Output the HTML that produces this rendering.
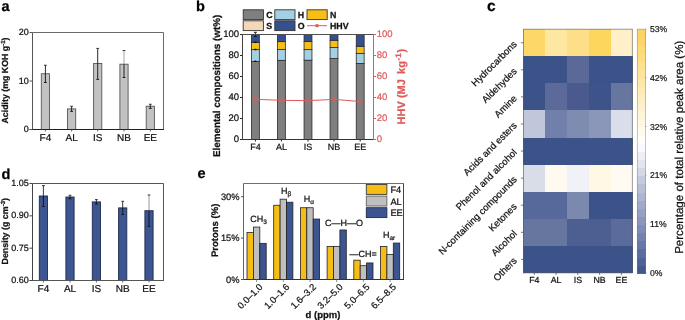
<!DOCTYPE html>
<html><head><meta charset="utf-8"><style>
html,body{margin:0;padding:0;background:#fff;}
svg{display:block;will-change:transform;text-rendering:geometricPrecision;font-family:"Liberation Sans", sans-serif;}
</style></head><body>
<svg width="685" height="320" viewBox="0 0 685 320">
<rect width="685" height="320" fill="#fff"/>
<text x="1.50" y="11.00" font-size="14.5" text-anchor="start" font-weight="bold" fill="#000" stroke="#000" stroke-width="0.25" >a</text>
<rect x="41.30" y="73.75" width="8.20" height="55.75" fill="#c2c2c2" stroke="#555" stroke-width="0.9" />
<rect x="67.50" y="108.90" width="8.20" height="20.60" fill="#c2c2c2" stroke="#555" stroke-width="0.9" />
<rect x="93.60" y="63.50" width="8.20" height="66.00" fill="#c2c2c2" stroke="#555" stroke-width="0.9" />
<rect x="119.90" y="64.20" width="8.20" height="65.30" fill="#c2c2c2" stroke="#555" stroke-width="0.9" />
<rect x="146.20" y="106.25" width="8.20" height="23.25" fill="#c2c2c2" stroke="#555" stroke-width="0.9" />
<line x1="45.40" y1="65.25" x2="45.40" y2="73.75" stroke="#111" stroke-width="0.9" />
<line x1="45.40" y1="73.75" x2="45.40" y2="82.50" stroke="#111" stroke-width="0.9" />
<line x1="44.00" y1="65.25" x2="46.80" y2="65.25" stroke="#222" stroke-width="0.9" />
<line x1="44.00" y1="82.50" x2="46.80" y2="82.50" stroke="#111" stroke-width="0.9" />
<line x1="71.60" y1="106.25" x2="71.60" y2="108.90" stroke="#111" stroke-width="0.9" />
<line x1="71.60" y1="108.90" x2="71.60" y2="111.40" stroke="#111" stroke-width="0.9" />
<line x1="70.20" y1="106.25" x2="73.00" y2="106.25" stroke="#222" stroke-width="0.9" />
<line x1="70.20" y1="111.40" x2="73.00" y2="111.40" stroke="#111" stroke-width="0.9" />
<line x1="97.70" y1="48.40" x2="97.70" y2="63.50" stroke="#111" stroke-width="0.9" />
<line x1="97.70" y1="63.50" x2="97.70" y2="79.40" stroke="#111" stroke-width="0.9" />
<line x1="96.30" y1="48.40" x2="99.10" y2="48.40" stroke="#222" stroke-width="0.9" />
<line x1="96.30" y1="79.40" x2="99.10" y2="79.40" stroke="#111" stroke-width="0.9" />
<line x1="124.00" y1="50.50" x2="124.00" y2="64.20" stroke="#9a9a9a" stroke-width="0.9" />
<line x1="124.00" y1="64.20" x2="124.00" y2="77.50" stroke="#111" stroke-width="0.9" />
<line x1="122.60" y1="50.50" x2="125.40" y2="50.50" stroke="#222" stroke-width="0.9" />
<line x1="122.60" y1="77.50" x2="125.40" y2="77.50" stroke="#111" stroke-width="0.9" />
<line x1="150.30" y1="104.25" x2="150.30" y2="106.25" stroke="#111" stroke-width="0.9" />
<line x1="150.30" y1="106.25" x2="150.30" y2="108.40" stroke="#111" stroke-width="0.9" />
<line x1="148.90" y1="104.25" x2="151.70" y2="104.25" stroke="#222" stroke-width="0.9" />
<line x1="148.90" y1="108.40" x2="151.70" y2="108.40" stroke="#111" stroke-width="0.9" />
<line x1="32.50" y1="32.50" x2="163.50" y2="32.50" stroke="#6a6a6a" stroke-width="1" />
<line x1="163.50" y1="32.50" x2="163.50" y2="129.50" stroke="#6a6a6a" stroke-width="1" />
<line x1="32.50" y1="32.50" x2="32.50" y2="129.50" stroke="#555" stroke-width="1" />
<line x1="29.50" y1="129.50" x2="164.00" y2="129.50" stroke="#222" stroke-width="1" />
<line x1="29.50" y1="129.50" x2="32.50" y2="129.50" stroke="#555" stroke-width="1" />
<text x="28.70" y="132.40" font-size="9" text-anchor="end" font-weight="normal" fill="#111" stroke="#111" stroke-width="0.22" >0</text>
<line x1="29.50" y1="81.00" x2="32.50" y2="81.00" stroke="#555" stroke-width="1" />
<text x="28.70" y="83.90" font-size="9" text-anchor="end" font-weight="normal" fill="#111" stroke="#111" stroke-width="0.22" >10</text>
<line x1="29.50" y1="32.50" x2="32.50" y2="32.50" stroke="#555" stroke-width="1" />
<text x="28.70" y="35.40" font-size="9" text-anchor="end" font-weight="normal" fill="#111" stroke="#111" stroke-width="0.22" >20</text>
<line x1="45.40" y1="129.50" x2="45.40" y2="131.50" stroke="#444" stroke-width="0.8" />
<text x="45.40" y="140.60" font-size="10" text-anchor="middle" font-weight="normal" fill="#111" stroke="#111" stroke-width="0.22" >F4</text>
<line x1="71.60" y1="129.50" x2="71.60" y2="131.50" stroke="#444" stroke-width="0.8" />
<text x="71.60" y="140.60" font-size="10" text-anchor="middle" font-weight="normal" fill="#111" stroke="#111" stroke-width="0.22" >AL</text>
<line x1="97.70" y1="129.50" x2="97.70" y2="131.50" stroke="#444" stroke-width="0.8" />
<text x="97.70" y="140.60" font-size="10" text-anchor="middle" font-weight="normal" fill="#111" stroke="#111" stroke-width="0.22" >IS</text>
<line x1="124.00" y1="129.50" x2="124.00" y2="131.50" stroke="#444" stroke-width="0.8" />
<text x="124.00" y="140.60" font-size="10" text-anchor="middle" font-weight="normal" fill="#111" stroke="#111" stroke-width="0.22" >NB</text>
<line x1="150.30" y1="129.50" x2="150.30" y2="131.50" stroke="#444" stroke-width="0.8" />
<text x="150.30" y="140.60" font-size="10" text-anchor="middle" font-weight="normal" fill="#111" stroke="#111" stroke-width="0.22" >EE</text>
<text transform="translate(8.4,123.5) rotate(-90)" font-size="8.8" font-weight="bold" fill="#111" stroke="#111" stroke-width="0.25">Acidity (mg KOH g<tspan dy="-3.5" font-size="6">-1</tspan><tspan dy="3.5">)</tspan></text>
<text x="1.50" y="178.50" font-size="14.5" text-anchor="start" font-weight="bold" fill="#000" stroke="#000" stroke-width="0.25" >d</text>
<rect x="39.30" y="196.00" width="8.20" height="84.50" fill="#3d5590" stroke="#1e2b4f" stroke-width="0.9" />
<rect x="65.90" y="197.00" width="8.20" height="83.50" fill="#3d5590" stroke="#1e2b4f" stroke-width="0.9" />
<rect x="92.30" y="201.90" width="8.20" height="78.60" fill="#3d5590" stroke="#1e2b4f" stroke-width="0.9" />
<rect x="118.60" y="207.90" width="8.20" height="72.60" fill="#3d5590" stroke="#1e2b4f" stroke-width="0.9" />
<rect x="144.90" y="210.70" width="8.20" height="69.80" fill="#3d5590" stroke="#1e2b4f" stroke-width="0.9" />
<line x1="43.40" y1="185.60" x2="43.40" y2="196.00" stroke="#222" stroke-width="0.9" />
<line x1="43.40" y1="196.00" x2="43.40" y2="206.50" stroke="#111" stroke-width="0.9" />
<line x1="42.00" y1="185.60" x2="44.80" y2="185.60" stroke="#222" stroke-width="0.9" />
<line x1="42.00" y1="206.50" x2="44.80" y2="206.50" stroke="#111" stroke-width="0.9" />
<line x1="70.00" y1="195.25" x2="70.00" y2="197.00" stroke="#222" stroke-width="0.9" />
<line x1="70.00" y1="197.00" x2="70.00" y2="198.75" stroke="#111" stroke-width="0.9" />
<line x1="68.60" y1="195.25" x2="71.40" y2="195.25" stroke="#222" stroke-width="0.9" />
<line x1="68.60" y1="198.75" x2="71.40" y2="198.75" stroke="#111" stroke-width="0.9" />
<line x1="96.40" y1="199.60" x2="96.40" y2="201.90" stroke="#222" stroke-width="0.9" />
<line x1="96.40" y1="201.90" x2="96.40" y2="204.00" stroke="#111" stroke-width="0.9" />
<line x1="95.00" y1="199.60" x2="97.80" y2="199.60" stroke="#222" stroke-width="0.9" />
<line x1="95.00" y1="204.00" x2="97.80" y2="204.00" stroke="#111" stroke-width="0.9" />
<line x1="122.70" y1="201.30" x2="122.70" y2="207.90" stroke="#222" stroke-width="0.9" />
<line x1="122.70" y1="207.90" x2="122.70" y2="214.50" stroke="#111" stroke-width="0.9" />
<line x1="121.30" y1="201.30" x2="124.10" y2="201.30" stroke="#222" stroke-width="0.9" />
<line x1="121.30" y1="214.50" x2="124.10" y2="214.50" stroke="#111" stroke-width="0.9" />
<line x1="149.00" y1="195.00" x2="149.00" y2="210.70" stroke="#8a8a8a" stroke-width="0.9" />
<line x1="149.00" y1="210.70" x2="149.00" y2="226.30" stroke="#111" stroke-width="0.9" />
<line x1="147.60" y1="195.00" x2="150.40" y2="195.00" stroke="#222" stroke-width="0.9" />
<line x1="147.60" y1="226.30" x2="150.40" y2="226.30" stroke="#111" stroke-width="0.9" />
<line x1="32.50" y1="183.50" x2="163.50" y2="183.50" stroke="#555" stroke-width="1" />
<line x1="163.50" y1="183.50" x2="163.50" y2="280.50" stroke="#555" stroke-width="1" />
<line x1="32.50" y1="183.50" x2="32.50" y2="280.50" stroke="#444" stroke-width="1" />
<line x1="29.50" y1="280.50" x2="164.00" y2="280.50" stroke="#555" stroke-width="1" />
<line x1="29.50" y1="280.50" x2="32.50" y2="280.50" stroke="#444" stroke-width="1" />
<text x="28.70" y="282.90" font-size="9" text-anchor="end" font-weight="normal" fill="#111" stroke="#111" stroke-width="0.22" >0.60</text>
<line x1="29.50" y1="248.17" x2="32.50" y2="248.17" stroke="#444" stroke-width="1" />
<text x="28.70" y="250.57" font-size="9" text-anchor="end" font-weight="normal" fill="#111" stroke="#111" stroke-width="0.22" >0.75</text>
<line x1="29.50" y1="215.83" x2="32.50" y2="215.83" stroke="#444" stroke-width="1" />
<text x="28.70" y="218.23" font-size="9" text-anchor="end" font-weight="normal" fill="#111" stroke="#111" stroke-width="0.22" >0.90</text>
<line x1="29.50" y1="183.50" x2="32.50" y2="183.50" stroke="#444" stroke-width="1" />
<text x="28.70" y="185.90" font-size="9" text-anchor="end" font-weight="normal" fill="#111" stroke="#111" stroke-width="0.22" >1.05</text>
<line x1="43.40" y1="280.50" x2="43.40" y2="282.50" stroke="#444" stroke-width="0.8" />
<text x="43.40" y="292.10" font-size="10" text-anchor="middle" font-weight="normal" fill="#111" stroke="#111" stroke-width="0.22" >F4</text>
<line x1="70.00" y1="280.50" x2="70.00" y2="282.50" stroke="#444" stroke-width="0.8" />
<text x="70.00" y="292.10" font-size="10" text-anchor="middle" font-weight="normal" fill="#111" stroke="#111" stroke-width="0.22" >AL</text>
<line x1="96.40" y1="280.50" x2="96.40" y2="282.50" stroke="#444" stroke-width="0.8" />
<text x="96.40" y="292.10" font-size="10" text-anchor="middle" font-weight="normal" fill="#111" stroke="#111" stroke-width="0.22" >IS</text>
<line x1="122.70" y1="280.50" x2="122.70" y2="282.50" stroke="#444" stroke-width="0.8" />
<text x="122.70" y="292.10" font-size="10" text-anchor="middle" font-weight="normal" fill="#111" stroke="#111" stroke-width="0.22" >NB</text>
<line x1="149.00" y1="280.50" x2="149.00" y2="282.50" stroke="#444" stroke-width="0.8" />
<text x="149.00" y="292.10" font-size="10" text-anchor="middle" font-weight="normal" fill="#111" stroke="#111" stroke-width="0.22" >EE</text>
<text transform="translate(8.3,264.5) rotate(-90)" font-size="8.9" font-weight="bold" fill="#111" stroke="#111" stroke-width="0.25">Density (g cm<tspan dy="-3.5" font-size="6">-3</tspan><tspan dy="3.5">)</tspan></text>
<text x="196.00" y="10.70" font-size="14.5" text-anchor="start" font-weight="bold" fill="#000" stroke="#000" stroke-width="0.25" >b</text>
<rect x="251.45" y="61.38" width="7.90" height="78.12" fill="#7f7f7f" stroke="#2a2a2a" stroke-width="0.8" />
<rect x="251.45" y="49.62" width="7.90" height="11.76" fill="#a3d0e2" stroke="#2a2a2a" stroke-width="0.8" />
<rect x="251.45" y="42.38" width="7.90" height="7.25" fill="#f7be16" stroke="#2a2a2a" stroke-width="0.8" />
<rect x="251.45" y="34.50" width="7.90" height="7.88" fill="#34508f" stroke="#2a2a2a" stroke-width="0.8" />
<rect x="277.45" y="60.33" width="7.90" height="79.17" fill="#7f7f7f" stroke="#2a2a2a" stroke-width="0.8" />
<rect x="277.45" y="49.52" width="7.90" height="10.81" fill="#a3d0e2" stroke="#2a2a2a" stroke-width="0.8" />
<rect x="277.45" y="41.64" width="7.90" height="7.88" fill="#f7be16" stroke="#2a2a2a" stroke-width="0.8" />
<rect x="277.45" y="34.50" width="7.90" height="7.14" fill="#34508f" stroke="#2a2a2a" stroke-width="0.8" />
<rect x="304.05" y="60.22" width="7.90" height="79.28" fill="#7f7f7f" stroke="#2a2a2a" stroke-width="0.8" />
<rect x="304.05" y="49.62" width="7.90" height="10.60" fill="#a3d0e2" stroke="#2a2a2a" stroke-width="0.8" />
<rect x="304.05" y="41.53" width="7.90" height="8.09" fill="#f7be16" stroke="#2a2a2a" stroke-width="0.8" />
<rect x="304.05" y="34.50" width="7.90" height="7.03" fill="#34508f" stroke="#2a2a2a" stroke-width="0.8" />
<rect x="330.05" y="58.55" width="7.90" height="80.95" fill="#7f7f7f" stroke="#2a2a2a" stroke-width="0.8" />
<rect x="330.05" y="47.52" width="7.90" height="11.03" fill="#a3d0e2" stroke="#2a2a2a" stroke-width="0.8" />
<rect x="330.05" y="40.28" width="7.90" height="7.24" fill="#f7be16" stroke="#2a2a2a" stroke-width="0.8" />
<rect x="330.05" y="34.50" width="7.90" height="5.78" fill="#34508f" stroke="#2a2a2a" stroke-width="0.8" />
<rect x="356.25" y="63.48" width="7.90" height="76.02" fill="#7f7f7f" stroke="#2a2a2a" stroke-width="0.8" />
<rect x="356.25" y="53.40" width="7.90" height="10.08" fill="#a3d0e2" stroke="#2a2a2a" stroke-width="0.8" />
<rect x="356.25" y="46.26" width="7.90" height="7.14" fill="#f7be16" stroke="#2a2a2a" stroke-width="0.8" />
<rect x="356.25" y="34.50" width="7.90" height="11.76" fill="#34508f" stroke="#2a2a2a" stroke-width="0.8" />
<line x1="255.40" y1="32.30" x2="255.40" y2="36.30" stroke="#111" stroke-width="0.9" />
<line x1="253.90" y1="32.30" x2="256.90" y2="32.30" stroke="#111" stroke-width="0.9" />
<line x1="253.90" y1="36.30" x2="256.90" y2="36.30" stroke="#111" stroke-width="0.9" />
<line x1="254.40" y1="61.30" x2="256.40" y2="61.30" stroke="#111" stroke-width="1.5" />
<line x1="254.40" y1="49.50" x2="256.40" y2="49.50" stroke="#111" stroke-width="1.5" />
<line x1="254.40" y1="42.30" x2="256.40" y2="42.30" stroke="#111" stroke-width="1.5" />
<polyline points="255.40,99.28 281.40,100.34 308.00,100.65 334.00,99.39 360.20,101.49" fill="none" stroke="#e05a5a" stroke-width="1"/>
<rect x="253.90" y="97.78" width="3.00" height="3.00" fill="#e05a5a" stroke="none" stroke-width="1" />
<rect x="279.90" y="98.84" width="3.00" height="3.00" fill="#e05a5a" stroke="none" stroke-width="1" />
<rect x="306.50" y="99.15" width="3.00" height="3.00" fill="#e05a5a" stroke="none" stroke-width="1" />
<rect x="332.50" y="97.89" width="3.00" height="3.00" fill="#e05a5a" stroke="none" stroke-width="1" />
<rect x="358.70" y="99.99" width="3.00" height="3.00" fill="#e05a5a" stroke="none" stroke-width="1" />
<line x1="242.50" y1="34.50" x2="373.50" y2="34.50" stroke="#505050" stroke-width="1" />
<line x1="242.50" y1="34.50" x2="242.50" y2="139.50" stroke="#444" stroke-width="1" />
<line x1="242.50" y1="139.50" x2="373.50" y2="139.50" stroke="#333" stroke-width="1" />
<line x1="373.50" y1="34.50" x2="373.50" y2="139.50" stroke="#e05a5a" stroke-width="1" />
<line x1="240.00" y1="139.50" x2="242.50" y2="139.50" stroke="#262626" stroke-width="1" />
<text x="239.00" y="142.30" font-size="9.5" text-anchor="end" font-weight="normal" fill="#111" stroke="#111" stroke-width="0.22" >0</text>
<line x1="373.50" y1="139.50" x2="376.00" y2="139.50" stroke="#e05a5a" stroke-width="1" />
<text x="376.70" y="142.30" font-size="9.5" text-anchor="start" font-weight="normal" fill="#e05a5a" stroke="#e05a5a" stroke-width="0.22" >0</text>
<line x1="240.00" y1="118.50" x2="242.50" y2="118.50" stroke="#262626" stroke-width="1" />
<text x="239.00" y="121.30" font-size="9.5" text-anchor="end" font-weight="normal" fill="#111" stroke="#111" stroke-width="0.22" >20</text>
<line x1="373.50" y1="118.50" x2="376.00" y2="118.50" stroke="#e05a5a" stroke-width="1" />
<text x="376.70" y="121.30" font-size="9.5" text-anchor="start" font-weight="normal" fill="#e05a5a" stroke="#e05a5a" stroke-width="0.22" >20</text>
<line x1="240.00" y1="97.50" x2="242.50" y2="97.50" stroke="#262626" stroke-width="1" />
<text x="239.00" y="100.30" font-size="9.5" text-anchor="end" font-weight="normal" fill="#111" stroke="#111" stroke-width="0.22" >40</text>
<line x1="373.50" y1="97.50" x2="376.00" y2="97.50" stroke="#e05a5a" stroke-width="1" />
<text x="376.70" y="100.30" font-size="9.5" text-anchor="start" font-weight="normal" fill="#e05a5a" stroke="#e05a5a" stroke-width="0.22" >40</text>
<line x1="240.00" y1="76.50" x2="242.50" y2="76.50" stroke="#262626" stroke-width="1" />
<text x="239.00" y="79.30" font-size="9.5" text-anchor="end" font-weight="normal" fill="#111" stroke="#111" stroke-width="0.22" >60</text>
<line x1="373.50" y1="76.50" x2="376.00" y2="76.50" stroke="#e05a5a" stroke-width="1" />
<text x="376.70" y="79.30" font-size="9.5" text-anchor="start" font-weight="normal" fill="#e05a5a" stroke="#e05a5a" stroke-width="0.22" >60</text>
<line x1="240.00" y1="55.50" x2="242.50" y2="55.50" stroke="#262626" stroke-width="1" />
<text x="239.00" y="58.30" font-size="9.5" text-anchor="end" font-weight="normal" fill="#111" stroke="#111" stroke-width="0.22" >80</text>
<line x1="373.50" y1="55.50" x2="376.00" y2="55.50" stroke="#e05a5a" stroke-width="1" />
<text x="376.70" y="58.30" font-size="9.5" text-anchor="start" font-weight="normal" fill="#e05a5a" stroke="#e05a5a" stroke-width="0.22" >80</text>
<line x1="240.00" y1="34.50" x2="242.50" y2="34.50" stroke="#262626" stroke-width="1" />
<text x="239.00" y="37.30" font-size="9.5" text-anchor="end" font-weight="normal" fill="#111" stroke="#111" stroke-width="0.22" >100</text>
<line x1="373.50" y1="34.50" x2="376.00" y2="34.50" stroke="#e05a5a" stroke-width="1" />
<text x="376.70" y="37.30" font-size="9.5" text-anchor="start" font-weight="normal" fill="#e05a5a" stroke="#e05a5a" stroke-width="0.22" >100</text>
<line x1="255.40" y1="139.50" x2="255.40" y2="141.50" stroke="#262626" stroke-width="1" />
<text x="255.40" y="149.90" font-size="9" text-anchor="middle" font-weight="normal" fill="#111" stroke="#111" stroke-width="0.22" >F4</text>
<line x1="281.40" y1="139.50" x2="281.40" y2="141.50" stroke="#262626" stroke-width="1" />
<text x="281.40" y="149.90" font-size="9" text-anchor="middle" font-weight="normal" fill="#111" stroke="#111" stroke-width="0.22" >AL</text>
<line x1="308.00" y1="139.50" x2="308.00" y2="141.50" stroke="#262626" stroke-width="1" />
<text x="308.00" y="149.90" font-size="9" text-anchor="middle" font-weight="normal" fill="#111" stroke="#111" stroke-width="0.22" >IS</text>
<line x1="334.00" y1="139.50" x2="334.00" y2="141.50" stroke="#262626" stroke-width="1" />
<text x="334.00" y="149.90" font-size="9" text-anchor="middle" font-weight="normal" fill="#111" stroke="#111" stroke-width="0.22" >NB</text>
<line x1="360.20" y1="139.50" x2="360.20" y2="141.50" stroke="#262626" stroke-width="1" />
<text x="360.20" y="149.90" font-size="9" text-anchor="middle" font-weight="normal" fill="#111" stroke="#111" stroke-width="0.22" >EE</text>
<text transform="translate(219.8,157) rotate(-90)" font-size="9.85" font-weight="bold" fill="#111" stroke="#111" stroke-width="0.25">Elemental compositions (wt%)</text>
<text transform="translate(405,124.4) rotate(-90)" font-size="11" font-weight="bold" fill="#e05a5a" stroke="#e05a5a" stroke-width="0.25">HHV (MJ<tspan dx="2.2"> kg</tspan><tspan dx="0.6" dy="-4.4" font-size="8">-1</tspan><tspan dx="0.8" dy="4.4">)</tspan></text>
<rect x="243.20" y="9.80" width="20.20" height="9.80" fill="#7f7f7f" stroke="#333" stroke-width="0.9" />
<text x="266.20" y="18.00" font-size="8.8" text-anchor="start" font-weight="bold" fill="#111" stroke="#111" stroke-width="0.25" >C</text>
<rect x="274.80" y="9.80" width="20.20" height="9.80" fill="#a3d0e2" stroke="#333" stroke-width="0.9" />
<text x="297.80" y="18.00" font-size="8.8" text-anchor="start" font-weight="bold" fill="#111" stroke="#111" stroke-width="0.25" >H</text>
<rect x="307.00" y="9.80" width="20.20" height="9.80" fill="#f7be16" stroke="#333" stroke-width="0.9" />
<text x="330.00" y="18.00" font-size="8.8" text-anchor="start" font-weight="bold" fill="#111" stroke="#111" stroke-width="0.25" >N</text>
<rect x="243.20" y="20.80" width="20.20" height="9.80" fill="#f3d8b8" stroke="#333" stroke-width="0.9" />
<text x="266.20" y="29.00" font-size="8.8" text-anchor="start" font-weight="bold" fill="#111" stroke="#111" stroke-width="0.25" >S</text>
<rect x="274.80" y="20.80" width="20.20" height="9.80" fill="#34508f" stroke="#333" stroke-width="0.9" />
<text x="297.80" y="29.00" font-size="8.8" text-anchor="start" font-weight="bold" fill="#111" stroke="#111" stroke-width="0.25" >O</text>
<line x1="307.00" y1="25.70" x2="327.00" y2="25.70" stroke="#e05a5a" stroke-width="1" />
<rect x="315.50" y="24.20" width="3.00" height="3.00" fill="#e05a5a" stroke="none" stroke-width="1" />
<text x="330.00" y="29.00" font-size="8.8" text-anchor="start" font-weight="bold" fill="#111" stroke="#111" stroke-width="0.25" >HHV</text>
<text x="197.50" y="178.20" font-size="14.5" text-anchor="start" font-weight="bold" fill="#000" stroke="#000" stroke-width="0.25" >e</text>
<rect x="247.00" y="232.58" width="6.40" height="46.92" fill="#f6bd16" stroke="#222" stroke-width="0.8" />
<rect x="253.40" y="227.06" width="6.40" height="52.44" fill="#bfbfbf" stroke="#222" stroke-width="0.8" />
<rect x="259.80" y="243.34" width="6.40" height="36.16" fill="#3c5591" stroke="#222" stroke-width="0.8" />
<rect x="273.70" y="205.26" width="6.40" height="74.24" fill="#f6bd16" stroke="#222" stroke-width="0.8" />
<rect x="280.10" y="199.18" width="6.40" height="80.32" fill="#bfbfbf" stroke="#222" stroke-width="0.8" />
<rect x="286.50" y="202.22" width="6.40" height="77.28" fill="#3c5591" stroke="#222" stroke-width="0.8" />
<rect x="300.40" y="207.74" width="6.40" height="71.76" fill="#f6bd16" stroke="#222" stroke-width="0.8" />
<rect x="306.80" y="207.74" width="6.40" height="71.76" fill="#bfbfbf" stroke="#222" stroke-width="0.8" />
<rect x="313.20" y="219.06" width="6.40" height="60.44" fill="#3c5591" stroke="#222" stroke-width="0.8" />
<rect x="327.10" y="246.38" width="6.40" height="33.12" fill="#f6bd16" stroke="#222" stroke-width="0.8" />
<rect x="333.50" y="246.38" width="6.40" height="33.12" fill="#bfbfbf" stroke="#222" stroke-width="0.8" />
<rect x="339.90" y="229.96" width="6.40" height="49.54" fill="#3c5591" stroke="#222" stroke-width="0.8" />
<rect x="353.80" y="260.18" width="6.40" height="19.32" fill="#f6bd16" stroke="#222" stroke-width="0.8" />
<rect x="360.20" y="265.70" width="6.40" height="13.80" fill="#bfbfbf" stroke="#222" stroke-width="0.8" />
<rect x="366.60" y="262.94" width="6.40" height="16.56" fill="#3c5591" stroke="#222" stroke-width="0.8" />
<rect x="380.50" y="246.38" width="6.40" height="33.12" fill="#f6bd16" stroke="#222" stroke-width="0.8" />
<rect x="386.90" y="254.38" width="6.40" height="25.12" fill="#bfbfbf" stroke="#222" stroke-width="0.8" />
<rect x="393.30" y="243.07" width="6.40" height="36.43" fill="#3c5591" stroke="#222" stroke-width="0.8" />
<line x1="243.50" y1="183.50" x2="403.50" y2="183.50" stroke="#707070" stroke-width="1" />
<line x1="243.50" y1="183.50" x2="243.50" y2="279.50" stroke="#666" stroke-width="1" />
<line x1="403.50" y1="183.50" x2="403.50" y2="279.50" stroke="#444" stroke-width="1" />
<line x1="243.50" y1="279.50" x2="404.00" y2="279.50" stroke="#333" stroke-width="1" />
<line x1="241.00" y1="279.50" x2="243.50" y2="279.50" stroke="#555" stroke-width="1" />
<text x="239.50" y="282.80" font-size="9.3" text-anchor="end" font-weight="normal" fill="#111" stroke="#111" stroke-width="0.22" >0%</text>
<line x1="241.00" y1="238.10" x2="243.50" y2="238.10" stroke="#555" stroke-width="1" />
<text x="239.50" y="241.40" font-size="9.3" text-anchor="end" font-weight="normal" fill="#111" stroke="#111" stroke-width="0.22" >15%</text>
<line x1="241.00" y1="196.70" x2="243.50" y2="196.70" stroke="#555" stroke-width="1" />
<text x="239.50" y="200.00" font-size="9.3" text-anchor="end" font-weight="normal" fill="#111" stroke="#111" stroke-width="0.22" >30%</text>
<line x1="256.60" y1="279.50" x2="256.60" y2="282.00" stroke="#777" stroke-width="0.8" />
<text transform="translate(263.30,287.50) rotate(-45)" font-size="9.4" text-anchor="end" font-weight="normal" fill="#111" stroke="#111" stroke-width="0.22">0.0–1.0</text>
<line x1="283.30" y1="279.50" x2="283.30" y2="282.00" stroke="#777" stroke-width="0.8" />
<text transform="translate(290.00,287.50) rotate(-45)" font-size="9.4" text-anchor="end" font-weight="normal" fill="#111" stroke="#111" stroke-width="0.22">1.0–1.6</text>
<line x1="310.00" y1="279.50" x2="310.00" y2="282.00" stroke="#777" stroke-width="0.8" />
<text transform="translate(316.70,287.50) rotate(-45)" font-size="9.4" text-anchor="end" font-weight="normal" fill="#111" stroke="#111" stroke-width="0.22">1.6–3.2</text>
<line x1="336.70" y1="279.50" x2="336.70" y2="282.00" stroke="#777" stroke-width="0.8" />
<text transform="translate(343.40,287.50) rotate(-45)" font-size="9.4" text-anchor="end" font-weight="normal" fill="#111" stroke="#111" stroke-width="0.22">3.2–5.0</text>
<line x1="363.40" y1="279.50" x2="363.40" y2="282.00" stroke="#777" stroke-width="0.8" />
<text transform="translate(370.10,287.50) rotate(-45)" font-size="9.4" text-anchor="end" font-weight="normal" fill="#111" stroke="#111" stroke-width="0.22">5.0–6.5</text>
<line x1="390.10" y1="279.50" x2="390.10" y2="282.00" stroke="#777" stroke-width="0.8" />
<text transform="translate(396.80,287.50) rotate(-45)" font-size="9.4" text-anchor="end" font-weight="normal" fill="#111" stroke="#111" stroke-width="0.22">6.5–8.5</text>
<text x="323.00" y="318.40" font-size="9.5" text-anchor="middle" font-weight="bold" fill="#111" stroke="#111" stroke-width="0.25" >d (ppm)</text>
<text transform="translate(217.5,257) rotate(-90)" font-size="9.5" font-weight="bold" fill="#111" stroke="#111" stroke-width="0.25">Protons (%)</text>
<rect x="366.30" y="184.50" width="20.60" height="9.90" fill="#f6bd16" stroke="#3a3a3a" stroke-width="0.9" />
<text x="390.40" y="193.20" font-size="9.3" text-anchor="start" font-weight="normal" fill="#111" stroke="#111" stroke-width="0.22" >F4</text>
<rect x="366.30" y="196.10" width="20.60" height="9.90" fill="#bfbfbf" stroke="#606060" stroke-width="0.9" />
<text x="390.40" y="204.80" font-size="9.3" text-anchor="start" font-weight="normal" fill="#111" stroke="#111" stroke-width="0.22" >AL</text>
<rect x="366.30" y="207.70" width="20.60" height="9.90" fill="#3c5591" stroke="#1e2b4f" stroke-width="0.9" />
<text x="390.40" y="216.40" font-size="9.3" text-anchor="start" font-weight="normal" fill="#111" stroke="#111" stroke-width="0.22" >EE</text>
<text x="250.3" y="221.6" font-size="9" fill="#111" stroke="#111" stroke-width="0.22">CH<tspan dy="2.5" font-size="6.5">3</tspan></text>
<text x="281" y="193.5" font-size="9" fill="#111" stroke="#111" stroke-width="0.22">H<tspan dy="2.5" font-size="6.5">β</tspan></text>
<text x="303.8" y="201.6" font-size="9" fill="#111" stroke="#111" stroke-width="0.22">H<tspan dy="2.5" font-size="6.5">α</tspan></text>
<text x="325.00" y="226.00" font-size="9" text-anchor="start" font-weight="normal" fill="#111" stroke="#111" stroke-width="0.22" >C—H—O</text>
<text x="349.60" y="257.20" font-size="9" text-anchor="start" font-weight="normal" fill="#111" stroke="#111" stroke-width="0.22" >—CH=</text>
<text x="383" y="237.5" font-size="9" fill="#111" stroke="#111" stroke-width="0.22">H<tspan dy="2.5" font-size="6.5">ar</tspan></text>
<text x="487.00" y="11.20" font-size="15.5" text-anchor="start" font-weight="bold" fill="#000" stroke="#000" stroke-width="0.25" >c</text>
<g shape-rendering="crispEdges">
<rect x="523.40" y="29.20" width="22.28" height="27.58" fill="#fdd868" stroke="none" stroke-width="1" />
<rect x="545.18" y="29.20" width="22.28" height="27.58" fill="#fee7a0" stroke="none" stroke-width="1" />
<rect x="566.96" y="29.20" width="22.28" height="27.58" fill="#fede88" stroke="none" stroke-width="1" />
<rect x="588.74" y="29.20" width="22.28" height="27.58" fill="#fdd65e" stroke="none" stroke-width="1" />
<rect x="610.52" y="29.20" width="22.28" height="27.58" fill="#fff0c8" stroke="none" stroke-width="1" />
<rect x="523.40" y="56.28" width="22.28" height="27.58" fill="#3c5389" stroke="none" stroke-width="1" />
<rect x="545.18" y="56.28" width="22.28" height="27.58" fill="#3c5389" stroke="none" stroke-width="1" />
<rect x="566.96" y="56.28" width="22.28" height="27.58" fill="#5a6997" stroke="none" stroke-width="1" />
<rect x="588.74" y="56.28" width="22.28" height="27.58" fill="#3c5389" stroke="none" stroke-width="1" />
<rect x="610.52" y="56.28" width="22.28" height="27.58" fill="#3c5389" stroke="none" stroke-width="1" />
<rect x="523.40" y="83.36" width="22.28" height="27.58" fill="#3c5389" stroke="none" stroke-width="1" />
<rect x="545.18" y="83.36" width="22.28" height="27.58" fill="#5b6a98" stroke="none" stroke-width="1" />
<rect x="566.96" y="83.36" width="22.28" height="27.58" fill="#4a5a8f" stroke="none" stroke-width="1" />
<rect x="588.74" y="83.36" width="22.28" height="27.58" fill="#3e5389" stroke="none" stroke-width="1" />
<rect x="610.52" y="83.36" width="22.28" height="27.58" fill="#6676a1" stroke="none" stroke-width="1" />
<rect x="523.40" y="110.44" width="22.28" height="27.58" fill="#c1c7da" stroke="none" stroke-width="1" />
<rect x="545.18" y="110.44" width="22.28" height="27.58" fill="#7080aa" stroke="none" stroke-width="1" />
<rect x="566.96" y="110.44" width="22.28" height="27.58" fill="#7f8cb2" stroke="none" stroke-width="1" />
<rect x="588.74" y="110.44" width="22.28" height="27.58" fill="#8b97b8" stroke="none" stroke-width="1" />
<rect x="610.52" y="110.44" width="22.28" height="27.58" fill="#dadeea" stroke="none" stroke-width="1" />
<rect x="523.40" y="137.52" width="22.28" height="27.58" fill="#3c5389" stroke="none" stroke-width="1" />
<rect x="545.18" y="137.52" width="22.28" height="27.58" fill="#3c5389" stroke="none" stroke-width="1" />
<rect x="566.96" y="137.52" width="22.28" height="27.58" fill="#3c5389" stroke="none" stroke-width="1" />
<rect x="588.74" y="137.52" width="22.28" height="27.58" fill="#3c5389" stroke="none" stroke-width="1" />
<rect x="610.52" y="137.52" width="22.28" height="27.58" fill="#3c5389" stroke="none" stroke-width="1" />
<rect x="523.40" y="164.60" width="22.28" height="27.58" fill="#d8dde8" stroke="none" stroke-width="1" />
<rect x="545.18" y="164.60" width="22.28" height="27.58" fill="#fffaf0" stroke="none" stroke-width="1" />
<rect x="566.96" y="164.60" width="22.28" height="27.58" fill="#f0f2f7" stroke="none" stroke-width="1" />
<rect x="588.74" y="164.60" width="22.28" height="27.58" fill="#fff8e5" stroke="none" stroke-width="1" />
<rect x="610.52" y="164.60" width="22.28" height="27.58" fill="#fffbf3" stroke="none" stroke-width="1" />
<rect x="523.40" y="191.68" width="22.28" height="27.58" fill="#57699a" stroke="none" stroke-width="1" />
<rect x="545.18" y="191.68" width="22.28" height="27.58" fill="#57699a" stroke="none" stroke-width="1" />
<rect x="566.96" y="191.68" width="22.28" height="27.58" fill="#7c89ae" stroke="none" stroke-width="1" />
<rect x="588.74" y="191.68" width="22.28" height="27.58" fill="#3c5389" stroke="none" stroke-width="1" />
<rect x="610.52" y="191.68" width="22.28" height="27.58" fill="#3c5389" stroke="none" stroke-width="1" />
<rect x="523.40" y="218.76" width="22.28" height="27.58" fill="#66769f" stroke="none" stroke-width="1" />
<rect x="545.18" y="218.76" width="22.28" height="27.58" fill="#66769f" stroke="none" stroke-width="1" />
<rect x="566.96" y="218.76" width="22.28" height="27.58" fill="#4d5e91" stroke="none" stroke-width="1" />
<rect x="588.74" y="218.76" width="22.28" height="27.58" fill="#4d5e91" stroke="none" stroke-width="1" />
<rect x="610.52" y="218.76" width="22.28" height="27.58" fill="#5b6b9b" stroke="none" stroke-width="1" />
<rect x="523.40" y="245.84" width="22.28" height="27.58" fill="#3c5389" stroke="none" stroke-width="1" />
<rect x="545.18" y="245.84" width="22.28" height="27.58" fill="#3c5389" stroke="none" stroke-width="1" />
<rect x="566.96" y="245.84" width="22.28" height="27.58" fill="#3c5389" stroke="none" stroke-width="1" />
<rect x="588.74" y="245.84" width="22.28" height="27.58" fill="#3c5389" stroke="none" stroke-width="1" />
<rect x="610.52" y="245.84" width="22.28" height="27.58" fill="#3c5389" stroke="none" stroke-width="1" />
</g>
<rect x="523.40" y="29.20" width="108.90" height="243.72" fill="none" stroke="rgba(90,90,90,0.75)" stroke-width="0.8" />
<line x1="520.90" y1="42.74" x2="523.40" y2="42.74" stroke="#555" stroke-width="0.8" />
<text transform="translate(517.50,44.74) rotate(-45)" font-size="9.6" text-anchor="end" font-weight="normal" fill="#111" stroke="#111" stroke-width="0.22">Hydrocarbons</text>
<line x1="520.90" y1="69.82" x2="523.40" y2="69.82" stroke="#555" stroke-width="0.8" />
<text transform="translate(517.50,71.82) rotate(-45)" font-size="9.6" text-anchor="end" font-weight="normal" fill="#111" stroke="#111" stroke-width="0.22">Aldehydes</text>
<line x1="520.90" y1="96.90" x2="523.40" y2="96.90" stroke="#555" stroke-width="0.8" />
<text transform="translate(517.50,98.90) rotate(-45)" font-size="9.6" text-anchor="end" font-weight="normal" fill="#111" stroke="#111" stroke-width="0.22">Amine</text>
<line x1="520.90" y1="123.98" x2="523.40" y2="123.98" stroke="#555" stroke-width="0.8" />
<text transform="translate(517.50,125.98) rotate(-45)" font-size="9.6" text-anchor="end" font-weight="normal" fill="#111" stroke="#111" stroke-width="0.22">Acids and esters</text>
<line x1="520.90" y1="151.06" x2="523.40" y2="151.06" stroke="#555" stroke-width="0.8" />
<text transform="translate(517.50,153.06) rotate(-45)" font-size="9.6" text-anchor="end" font-weight="normal" fill="#111" stroke="#111" stroke-width="0.22">Phenol and alcohol</text>
<line x1="520.90" y1="178.14" x2="523.40" y2="178.14" stroke="#555" stroke-width="0.8" />
<text transform="translate(517.50,180.14) rotate(-45)" font-size="9.6" text-anchor="end" font-weight="normal" fill="#111" stroke="#111" stroke-width="0.22">N-containing compounds</text>
<line x1="520.90" y1="205.22" x2="523.40" y2="205.22" stroke="#555" stroke-width="0.8" />
<text transform="translate(517.50,207.22) rotate(-45)" font-size="9.6" text-anchor="end" font-weight="normal" fill="#111" stroke="#111" stroke-width="0.22">Ketones</text>
<line x1="520.90" y1="232.30" x2="523.40" y2="232.30" stroke="#555" stroke-width="0.8" />
<text transform="translate(517.50,234.30) rotate(-45)" font-size="9.6" text-anchor="end" font-weight="normal" fill="#111" stroke="#111" stroke-width="0.22">Alcohol</text>
<line x1="520.90" y1="259.38" x2="523.40" y2="259.38" stroke="#555" stroke-width="0.8" />
<text transform="translate(517.50,261.38) rotate(-45)" font-size="9.6" text-anchor="end" font-weight="normal" fill="#111" stroke="#111" stroke-width="0.22">Others</text>
<line x1="534.29" y1="272.92" x2="534.29" y2="274.92" stroke="#555" stroke-width="0.8" />
<text x="534.29" y="282.50" font-size="8.8" text-anchor="middle" font-weight="normal" fill="#111" stroke="#111" stroke-width="0.22" >F4</text>
<line x1="556.07" y1="272.92" x2="556.07" y2="274.92" stroke="#555" stroke-width="0.8" />
<text x="556.07" y="282.50" font-size="8.8" text-anchor="middle" font-weight="normal" fill="#111" stroke="#111" stroke-width="0.22" >AL</text>
<line x1="577.85" y1="272.92" x2="577.85" y2="274.92" stroke="#555" stroke-width="0.8" />
<text x="577.85" y="282.50" font-size="8.8" text-anchor="middle" font-weight="normal" fill="#111" stroke="#111" stroke-width="0.22" >IS</text>
<line x1="599.63" y1="272.92" x2="599.63" y2="274.92" stroke="#555" stroke-width="0.8" />
<text x="599.63" y="282.50" font-size="8.8" text-anchor="middle" font-weight="normal" fill="#111" stroke="#111" stroke-width="0.22" >NB</text>
<line x1="621.41" y1="272.92" x2="621.41" y2="274.92" stroke="#555" stroke-width="0.8" />
<text x="621.41" y="282.50" font-size="8.8" text-anchor="middle" font-weight="normal" fill="#111" stroke="#111" stroke-width="0.22" >EE</text>
<g shape-rendering="crispEdges">
<rect x="637.30" y="265.16" width="8.20" height="8.74" fill="#42588d" stroke="none" stroke-width="1" />
<rect x="637.30" y="257.02" width="8.20" height="8.74" fill="#4e6295" stroke="none" stroke-width="1" />
<rect x="637.30" y="248.88" width="8.20" height="8.74" fill="#5a6d9d" stroke="none" stroke-width="1" />
<rect x="637.30" y="240.74" width="8.20" height="8.74" fill="#6777a6" stroke="none" stroke-width="1" />
<rect x="637.30" y="232.60" width="8.20" height="8.74" fill="#7382ae" stroke="none" stroke-width="1" />
<rect x="637.30" y="224.46" width="8.20" height="8.74" fill="#7f8cb6" stroke="none" stroke-width="1" />
<rect x="637.30" y="216.32" width="8.20" height="8.74" fill="#8b96bd" stroke="none" stroke-width="1" />
<rect x="637.30" y="208.18" width="8.20" height="8.74" fill="#96a0c3" stroke="none" stroke-width="1" />
<rect x="637.30" y="200.04" width="8.20" height="8.74" fill="#a1aaca" stroke="none" stroke-width="1" />
<rect x="637.30" y="191.90" width="8.20" height="8.74" fill="#adb5d0" stroke="none" stroke-width="1" />
<rect x="637.30" y="183.76" width="8.20" height="8.74" fill="#b8bfd6" stroke="none" stroke-width="1" />
<rect x="637.30" y="175.62" width="8.20" height="8.74" fill="#c5cadd" stroke="none" stroke-width="1" />
<rect x="637.30" y="167.48" width="8.20" height="8.74" fill="#d3d8e6" stroke="none" stroke-width="1" />
<rect x="637.30" y="159.34" width="8.20" height="8.74" fill="#e2e5ee" stroke="none" stroke-width="1" />
<rect x="637.30" y="151.20" width="8.20" height="8.74" fill="#edeff5" stroke="none" stroke-width="1" />
<rect x="637.30" y="143.06" width="8.20" height="8.74" fill="#f9f9fa" stroke="none" stroke-width="1" />
<rect x="637.30" y="134.92" width="8.20" height="8.74" fill="#fffdf7" stroke="none" stroke-width="1" />
<rect x="637.30" y="126.78" width="8.20" height="8.74" fill="#fffaec" stroke="none" stroke-width="1" />
<rect x="637.30" y="118.64" width="8.20" height="8.74" fill="#fff7e1" stroke="none" stroke-width="1" />
<rect x="637.30" y="110.50" width="8.20" height="8.74" fill="#fef4d7" stroke="none" stroke-width="1" />
<rect x="637.30" y="102.36" width="8.20" height="8.74" fill="#fef1cd" stroke="none" stroke-width="1" />
<rect x="637.30" y="94.22" width="8.20" height="8.74" fill="#feeec1" stroke="none" stroke-width="1" />
<rect x="637.30" y="86.08" width="8.20" height="8.74" fill="#feeab4" stroke="none" stroke-width="1" />
<rect x="637.30" y="77.94" width="8.20" height="8.74" fill="#fee7a7" stroke="none" stroke-width="1" />
<rect x="637.30" y="69.80" width="8.20" height="8.74" fill="#fee39a" stroke="none" stroke-width="1" />
<rect x="637.30" y="61.66" width="8.20" height="8.74" fill="#fee08d" stroke="none" stroke-width="1" />
<rect x="637.30" y="53.52" width="8.20" height="8.74" fill="#fddd80" stroke="none" stroke-width="1" />
<rect x="637.30" y="45.38" width="8.20" height="8.74" fill="#fdda75" stroke="none" stroke-width="1" />
<rect x="637.30" y="37.24" width="8.20" height="8.74" fill="#fcd66a" stroke="none" stroke-width="1" />
<rect x="637.30" y="29.10" width="8.20" height="8.74" fill="#fcd45f" stroke="none" stroke-width="1" />
</g>
<rect x="637.30" y="29.10" width="8.20" height="244.20" fill="none" stroke="rgba(120,120,120,0.6)" stroke-width="0.7" />
<line x1="645.50" y1="272.90" x2="646.50" y2="272.90" stroke="#888" stroke-width="0.8" />
<text x="650.00" y="275.90" font-size="8.6" text-anchor="start" font-weight="normal" fill="#1a1a1a" stroke="#1a1a1a" stroke-width="0.22" >0%</text>
<line x1="645.50" y1="224.10" x2="646.50" y2="224.10" stroke="#888" stroke-width="0.8" />
<text x="650.00" y="227.10" font-size="8.6" text-anchor="start" font-weight="normal" fill="#1a1a1a" stroke="#1a1a1a" stroke-width="0.22" >11%</text>
<line x1="645.50" y1="175.30" x2="646.50" y2="175.30" stroke="#888" stroke-width="0.8" />
<text x="650.00" y="178.30" font-size="8.6" text-anchor="start" font-weight="normal" fill="#1a1a1a" stroke="#1a1a1a" stroke-width="0.22" >21%</text>
<line x1="645.50" y1="126.50" x2="646.50" y2="126.50" stroke="#888" stroke-width="0.8" />
<text x="650.00" y="129.50" font-size="8.6" text-anchor="start" font-weight="normal" fill="#1a1a1a" stroke="#1a1a1a" stroke-width="0.22" >32%</text>
<line x1="645.50" y1="77.70" x2="646.50" y2="77.70" stroke="#888" stroke-width="0.8" />
<text x="650.00" y="80.70" font-size="8.6" text-anchor="start" font-weight="normal" fill="#1a1a1a" stroke="#1a1a1a" stroke-width="0.22" >42%</text>
<line x1="645.50" y1="28.90" x2="646.50" y2="28.90" stroke="#888" stroke-width="0.8" />
<text x="650.00" y="31.90" font-size="8.6" text-anchor="start" font-weight="normal" fill="#1a1a1a" stroke="#1a1a1a" stroke-width="0.22" >53%</text>
<text transform="translate(683.2,147.3) rotate(-90)" font-size="11.55" text-anchor="middle" fill="#111" stroke="#111" stroke-width="0.22">Percentage of total relative peak area (%)</text>
</svg>
</body></html>
